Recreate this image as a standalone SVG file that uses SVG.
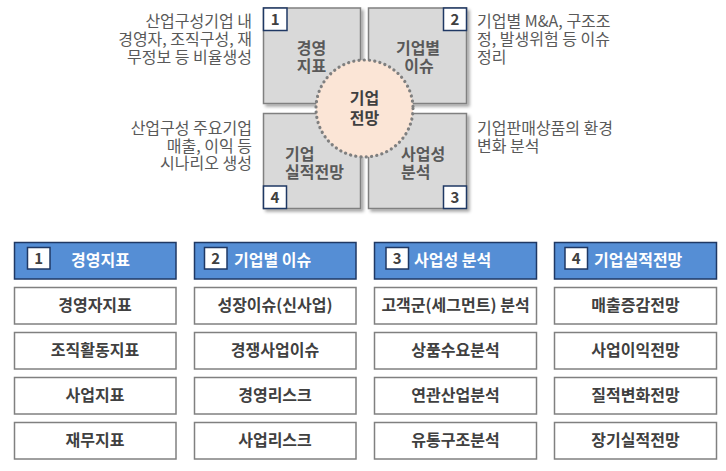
<svg xmlns="http://www.w3.org/2000/svg" width="726" height="471" viewBox="0 0 726 471">
<defs>
<filter id="sh" x="-10%" y="-10%" width="130%" height="130%">
<feDropShadow dx="2.5" dy="2.5" stdDeviation="1.5" flood-color="#000" flood-opacity="0.35"/>
</filter>
<style>
text{font-family:"Noto Sans CJK KR","Noto Sans",sans-serif;}
.sq{fill:#d9d9d9;stroke:#808080;stroke-width:1.5;filter:url(#sh);}
.nb{fill:#ffffff;stroke:#1f3864;stroke-width:1.5;}
.nt{font-size:15px;font-weight:bold;fill:#404040;text-anchor:middle;}
.st{font-size:16px;font-weight:bold;fill:#595959;}
.side{font-size:16px;fill:#595959;}
.hd{fill:#558ed5;stroke:#1f3864;stroke-width:1.5;}
.ht{font-size:16px;font-weight:bold;fill:#ffffff;}
.rw{fill:#ffffff;stroke:#808080;stroke-width:1.5;}
.rt{font-size:16px;font-weight:bold;fill:#404040;text-anchor:middle;}
</style>
</defs>
<rect width="726" height="471" fill="#ffffff"/>

<g id="connectors"/>

<g id="note-1">
<text class="side" text-anchor="end"><tspan x="252" y="27">산업구성기업 내</tspan><tspan x="252" y="45">경영자, 조직구성, 재</tspan><tspan x="252" y="62.5">무정보 등 비율생성</tspan></text>
</g>
<g id="note-4">
<text class="side" text-anchor="end"><tspan x="252" y="134">산업구성 주요기업</tspan><tspan x="252" y="151.5">매출, 이익 등</tspan><tspan x="252" y="169">시나리오 생성</tspan></text>
</g>
<g id="note-2">
<text class="side"><tspan x="477" y="27">기업별 M&amp;A, 구조조</tspan><tspan x="477" y="45">정, 발생위험 등 이슈</tspan><tspan x="477" y="62.5">정리</tspan></text>
</g>
<g id="note-3">
<text class="side"><tspan x="477" y="134">기업판매상품의 환경</tspan><tspan x="477" y="151.5">변화 분석</tspan></text>
</g>

<g id="sq-1">
<rect class="sq" x="263.5" y="8" width="97" height="95.5"/>
<rect class="nb" x="263.5" y="8" width="23.5" height="22.5"/>
<text class="nt" x="275.2" y="25">1</text>
<text class="st" text-anchor="middle"><tspan x="311.5" y="53.5">경영</tspan><tspan x="311.5" y="72">지표</tspan></text>
</g>
<g id="sq-2">
<rect class="sq" x="368.5" y="8" width="98" height="95.5"/>
<rect class="nb" x="443.5" y="8" width="23" height="22.5"/>
<text class="nt" x="455" y="25">2</text>
<text class="st" text-anchor="middle"><tspan x="418" y="53.5">기업별</tspan><tspan x="419" y="72">이슈</tspan></text>
</g>
<g id="sq-4">
<rect class="sq" x="263.5" y="113.5" width="97" height="95"/>
<rect class="nb" x="263.5" y="186" width="23" height="22.5"/>
<text class="nt" x="275" y="203">4</text>
<text class="st"><tspan x="285" y="160">기업</tspan><tspan x="285" y="178">실적전망</tspan></text>
</g>
<g id="sq-3">
<rect class="sq" x="368.5" y="113.5" width="98" height="95"/>
<rect class="nb" x="443.5" y="186" width="23" height="22.5"/>
<text class="nt" x="455" y="203">3</text>
<text class="st"><tspan x="401" y="160">사업성</tspan><tspan x="401" y="178">분석</tspan></text>
</g>
<g id="center">
<circle cx="364.5" cy="108.5" r="48.5" fill="#fbe5d6" stroke="#7f7f7f" stroke-width="3.2" stroke-dasharray="0.1 5.2" stroke-linecap="round"/>
<text class="st" text-anchor="middle" style="fill:#404040"><tspan x="364.5" y="103.5">기업</tspan><tspan x="364.5" y="123.5">전망</tspan></text>
</g>

<g id="col-1">
<rect class="hd" x="14.5" y="242.5" width="161.5" height="36.5"/>
<rect class="nb" x="27.5" y="247.5" width="22.5" height="21.5"/>
<text class="nt" x="38.7" y="263.5">1</text>
<text class="ht" x="71" y="266">경영지표</text>
<rect class="rw" x="14.5" y="287.5" width="161.5" height="36.5"/>
<text class="rt" x="95" y="311">경영자지표</text>
<rect class="rw" x="14.5" y="332.5" width="161.5" height="36.5"/>
<text class="rt" x="95" y="356">조직활동지표</text>
<rect class="rw" x="14.5" y="377.5" width="161.5" height="36.5"/>
<text class="rt" x="95" y="401">사업지표</text>
<rect class="rw" x="14.5" y="422.5" width="161.5" height="36.5"/>
<text class="rt" x="95" y="446">재무지표</text>
</g>
<g id="col-2">
<rect class="hd" x="194.5" y="242.5" width="161.5" height="36.5"/>
<rect class="nb" x="204.5" y="247.5" width="22.5" height="21.5"/>
<text class="nt" x="215.7" y="263.5">2</text>
<text class="ht" x="234" y="266">기업별 이슈</text>
<rect class="rw" x="194.5" y="287.5" width="161.5" height="36.5"/>
<text class="rt" x="275" y="311">성장이슈(신사업)</text>
<rect class="rw" x="194.5" y="332.5" width="161.5" height="36.5"/>
<text class="rt" x="275" y="356">경쟁사업이슈</text>
<rect class="rw" x="194.5" y="377.5" width="161.5" height="36.5"/>
<text class="rt" x="275" y="401">경영리스크</text>
<rect class="rw" x="194.5" y="422.5" width="161.5" height="36.5"/>
<text class="rt" x="275" y="446">사업리스크</text>
</g>
<g id="col-3">
<rect class="hd" x="374.5" y="242.5" width="162" height="36.5"/>
<rect class="nb" x="386" y="247.5" width="22.5" height="21.5"/>
<text class="nt" x="397.2" y="263.5">3</text>
<text class="ht" x="414" y="266">사업성 분석</text>
<rect class="rw" x="374.5" y="287.5" width="162" height="36.5"/>
<text class="rt" x="455.5" y="311">고객군(세그먼트) 분석</text>
<rect class="rw" x="374.5" y="332.5" width="162" height="36.5"/>
<text class="rt" x="455.5" y="356">상품수요분석</text>
<rect class="rw" x="374.5" y="377.5" width="162" height="36.5"/>
<text class="rt" x="455.5" y="401">연관산업분석</text>
<rect class="rw" x="374.5" y="422.5" width="162" height="36.5"/>
<text class="rt" x="455.5" y="446">유통구조분석</text>
</g>
<g id="col-4">
<rect class="hd" x="554.5" y="242.5" width="162" height="36.5"/>
<rect class="nb" x="565" y="247.5" width="22.5" height="21.5"/>
<text class="nt" x="576.2" y="263.5">4</text>
<text class="ht" x="594" y="266">기업실적전망</text>
<rect class="rw" x="554.5" y="287.5" width="162" height="36.5"/>
<text class="rt" x="635.5" y="311">매출증감전망</text>
<rect class="rw" x="554.5" y="332.5" width="162" height="36.5"/>
<text class="rt" x="635.5" y="356">사업이익전망</text>
<rect class="rw" x="554.5" y="377.5" width="162" height="36.5"/>
<text class="rt" x="635.5" y="401">질적변화전망</text>
<rect class="rw" x="554.5" y="422.5" width="162" height="36.5"/>
<text class="rt" x="635.5" y="446">장기실적전망</text>
</g>
</svg>
